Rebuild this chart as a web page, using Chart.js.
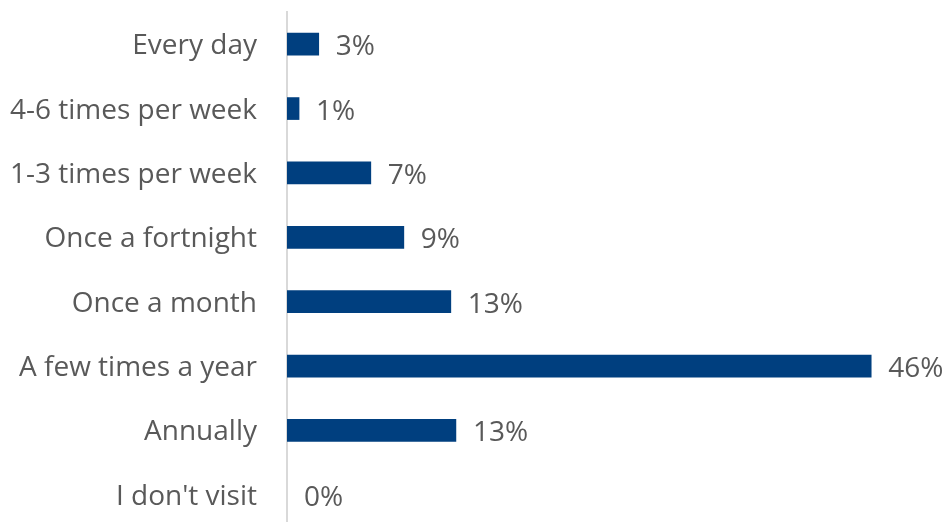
<!DOCTYPE html>
<html>
<head>
<meta charset="utf-8">
<script src="https://cdn.jsdelivr.net/npm/chart.js@4"></script>
<style>
  html, body { margin: 0; padding: 0; background: #fff; overflow: hidden; }
  #wrap { width: 947px; height: 527px; }
</style>
</head>
<body>
<div id="wrap"><canvas id="chart"></canvas></div>
<script>
const categories = [
  'Every day',
  '4-6 times per week',
  '1-3 times per week',
  'Once a fortnight',
  'Once a month',
  'A few times a year',
  'Annually',
  "I don't visit"
];
const shares = [2.5, 0.95, 6.6, 9.2, 12.9, 46, 13.3, 0];

const FONT = '"Open Sans", "Noto Sans", sans-serif';
const TEXT = '#595959';
const BAR = '#003F7F';

// value labels to the right of each bar
const valueLabels = {
  id: 'valueLabels',
  afterDatasetsDraw( chart ) {
    const ctx = chart.ctx;
    const meta = chart.getDatasetMeta( 0 );
    ctx.save();
    ctx.font = '28px ' + FONT;
    ctx.fillStyle = TEXT;
    ctx.textBaseline = 'middle';
    ctx.textAlign = 'left';
    meta.data.forEach( ( bar, i ) => {
      ctx.fillText( Math.round( shares[ i ] ) + '%', bar.x + 17, bar.y + 3 );
    } );
    ctx.restore();
  },
};

new Chart( document.getElementById( 'chart' ), {
  type: 'bar',
  data: {
    labels: categories,
    datasets: [
      {
        data: shares,
        // a zero bar leaves a hairline otherwise
        backgroundColor: ( c ) => ( c.raw === 0 ? 'rgba(0,0,0,0)' : BAR ),
        barThickness: 22,
      },
    ],
  },
  options: {
    indexAxis: 'y',
    responsive: true,
    maintainAspectRatio: false,
    animation: false,
    layout: { padding: { top: 12, right: 25, bottom: 0, left: 0 } },
    plugins: {
      legend: { display: false },
      tooltip: { enabled: false },
    },
    scales: {
      x: {
        display: false,
        min: 0,
        max: 50,
      },
      y: {
        grid: { display: false, drawTicks: false },
        border: { display: true, color: '#D9D9D9', width: 2 },
        ticks: {
          color: TEXT,
          padding: 30,
          labelOffset: 2,
          font: { family: FONT, size: 28 },
        },
        afterFit( scale ) {
          scale.width = 287;
          scale.paddingTop = 0;
          scale.paddingBottom = 0;
        },
      },
    },
  },
  plugins: [ valueLabels ],
} );
</script>
</body>
</html>
